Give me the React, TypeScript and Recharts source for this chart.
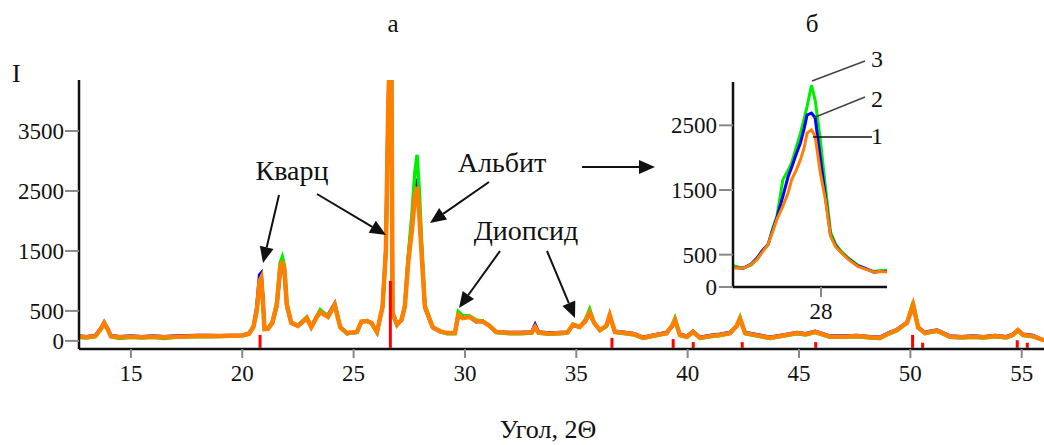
import { LineChart, Line, XAxis, YAxis, ReferenceLine } from "recharts";

// main pattern, 2Θ positions
const angle = [
  12.67, 13.0, 13.4, 13.65, 13.8, 13.95, 14.1, 14.5, 15.0, 15.5,
  16.0, 16.5, 17.0, 17.5, 18.0, 18.5, 19.0, 19.5, 20.0, 20.3,
  20.5, 20.65, 20.78, 20.85, 20.92, 21.0, 21.15, 21.35, 21.55, 21.7,
  21.8, 21.9, 22.0, 22.2, 22.5, 22.9, 23.1, 23.35, 23.5, 23.85,
  24.15, 24.4, 24.7, 25.15, 25.35, 25.6, 25.8, 26.05, 26.3, 26.45,
  26.55, 26.6, 26.7, 26.75, 26.95, 27.15, 27.3, 27.45, 27.62, 27.75, 27.85,
  27.95, 28.07, 28.2, 28.55, 28.9, 29.2, 29.55, 29.7, 29.9, 30.2,
  30.5, 30.8, 31.1, 31.4, 32.0, 32.5, 33.0, 33.15, 33.3, 33.8,
  34.3, 34.6, 34.85, 35.15, 35.4, 35.6, 35.8, 36.06, 36.35, 36.5,
  36.73, 37.2, 37.6, 38.0, 38.5, 39.05, 39.3, 39.43, 39.65, 39.97,
  40.24, 40.56, 41.0, 41.45, 41.9, 42.2, 42.35, 42.58, 43.0, 43.7,
  44.3, 44.9, 45.3, 45.72, 46.4, 47.0, 47.6, 48.2, 48.63, 49.0,
  49.4, 49.85, 50.12, 50.35, 50.66, 50.9, 51.2, 51.5, 51.78, 52.3,
  52.8, 53.3, 53.8, 54.3, 54.6, 54.83, 55.06, 55.5, 56.0,
];

// sample 1 (orange)
const sample1 = [
  70, 60, 80, 200, 300, 200, 80, 60, 70, 60,
  70, 60, 70, 75, 80, 80, 80, 85, 90, 120,
  230, 500, 1000, 1050, 700, 200, 200, 300, 600, 1200,
  1330, 1150, 600, 300, 250, 380, 230, 400, 480, 400,
  600, 230, 130, 150, 320, 330, 300, 150, 570, 1500,
  3800, 4500, 4500, 460, 270, 350, 570, 1300, 1850, 2400, 2570,
  2100, 1350, 570, 230, 160, 130, 130, 430, 380, 400,
  330, 320, 250, 150, 130, 130, 140, 230, 140, 120,
  130, 140, 270, 230, 330, 470, 300, 180, 250, 430,
  150, 130, 110, 50, 90, 130, 250, 350, 100, 70,
  150, 50, 80, 100, 130, 250, 370, 130, 100, 50,
  90, 130, 110, 150, 70, 70, 80, 60, 50, 120,
  180, 300, 600, 220, 130, 150, 170, 120, 70, 60,
  70, 60, 80, 60, 100, 180, 100, 80, 10,
];

// sample 2 (blue)
const sample2 = [
  80, 70, 90, 210, 310, 210, 90, 70, 80, 70,
  80, 70, 80, 85, 90, 90, 85, 90, 95, 125,
  240, 550, 1100, 1130, 750, 210, 210, 290, 580, 1150,
  1300, 1100, 580, 300, 250, 370, 230, 410, 470, 430,
  620, 230, 120, 150, 320, 330, 300, 140, 580, 1550,
  3850, 4500, 4500, 470, 280, 340, 580, 1350, 1950, 2550, 2700,
  2200, 1400, 560, 220, 150, 130, 130, 420, 390, 400,
  320, 330, 250, 150, 140, 140, 150, 270, 150, 130,
  140, 140, 260, 230, 320, 450, 300, 180, 250, 420,
  160, 140, 120, 60, 100, 140, 240, 340, 110, 80,
  160, 60, 90, 110, 140, 240, 360, 140, 110, 60,
  100, 140, 120, 160, 80, 80, 90, 70, 60, 130,
  190, 310, 590, 230, 140, 160, 180, 130, 80, 70,
  80, 70, 90, 70, 110, 180, 110, 90, 10,
];

// sample 3 (green)
const sample3 = [
  60, 50, 70, 190, 290, 190, 70, 40, 60, 50,
  60, 40, 60, 70, 75, 70, 75, 80, 85, 110,
  220, 480, 960, 1000, 680, 190, 200, 320, 650, 1300,
  1400, 1250, 650, 310, 260, 400, 240, 420, 520, 410,
  610, 220, 120, 140, 310, 340, 290, 140, 560, 1450,
  3700, 4500, 4500, 450, 260, 360, 600, 1400, 2100, 2800, 3100,
  2500, 1500, 600, 240, 150, 120, 120, 490, 420, 420,
  350, 330, 260, 140, 120, 120, 130, 220, 130, 110,
  120, 130, 280, 240, 350, 530, 310, 170, 240, 420,
  140, 120, 100, 40, 80, 120, 260, 380, 90, 60,
  140, 40, 70, 90, 120, 260, 400, 120, 90, 40,
  80, 120, 100, 140, 60, 60, 70, 50, 40, 110,
  170, 310, 650, 230, 120, 140, 160, 110, 60, 50,
  60, 50, 70, 50, 90, 170, 90, 70, 10,
];

// reference (card) lines shown in red under the pattern
const cardAngle = [20.8, 26.65, 36.6, 39.35, 40.25, 42.45, 45.75, 50.1, 50.55, 54.8, 55.25];
const cardTop = [100, 1000, 50, 30, -20, -20, -20, 100, -30, 10, -30];
const cardBase = -115;

const mainXTicks = [15, 20, 25, 30, 35, 40, 45, 50, 55];
const mainYTicks = [0, 500, 1500, 2500, 3500];

// inset around the albite peak
const insetAngle = [
  26.8, 26.94, 27.05, 27.13, 27.2, 27.28, 27.34, 27.4, 27.48, 27.55,
  27.6, 27.66, 27.72, 27.77, 27.81, 27.87, 27.92, 27.99, 28.06, 28.13,
  28.2, 28.27, 28.38, 28.5, 28.6, 28.72, 28.8, 28.9,
];
const inset1 = [
  300, 290, 350, 430, 540, 660, 850, 1050, 1250, 1450,
  1660, 1800, 1970, 2150, 2380, 2430, 2330, 1770, 1350, 790,
  620, 540, 420, 320, 280, 230, 240, 230,
];
const inset2 = [
  300, 290, 360, 450, 560, 660, 880, 1080, 1400, 1700,
  1850, 2050, 2230, 2450, 2660, 2690, 2620, 2000, 1400, 800,
  640, 540, 430, 330, 290, 230, 240, 240,
];
const inset3 = [
  330, 290, 340, 430, 560, 660, 900, 1100, 1660, 1800,
  1920, 2150, 2380, 2600, 2790, 3120, 2890, 2280, 1550, 850,
  660, 560, 440, 340, 280, 240, 250, 260,
];
const insetYTicks = [0, 500, 1500, 2500];
const insetXTicks = [28];

const ORANGE = "#ff8000";
const BLUE = "#0000ff";
const GREEN = "#00ee00";
const FONT = "Liberation Serif";

const mainData = angle.map((a, i) => ({
  angle: a,
  s1: sample1[i],
  s2: sample2[i],
  s3: sample3[i],
}));

const insetData = insetAngle.map((a, i) => ({
  angle: a,
  s1: inset1[i],
  s2: inset2[i],
  s3: inset3[i],
}));

const tickStyle = { fontSize: 23, fill: "#111", fontFamily: FONT };

function Arrow({ x1, y1, x2, y2 }: { x1: number; y1: number; x2: number; y2: number }) {
  const a = Math.atan2(y2 - y1, x2 - x1);
  const len = 16;
  const w = 7;
  const bx = x2 - len * Math.cos(a);
  const by = y2 - len * Math.sin(a);
  const px = -Math.sin(a) * w;
  const py = Math.cos(a) * w;
  return (
    <g>
      <line x1={x1} y1={y1} x2={bx} y2={by} stroke="#111" strokeWidth={2} />
      <polygon points={`${x2},${y2} ${bx + px},${by + py} ${bx - px},${by - py}`} fill="#111" />
    </g>
  );
}

export default function App() {
  return (
    <div
      style={{
        position: "absolute",
        left: 0,
        top: 0,
        width: 1044,
        height: 445,
        background: "#fff",
        fontFamily: FONT,
      }}
    >
      <style>{`.recharts-wrapper text, .recharts-text { font-family: "Liberation Serif", serif !important; }`}</style>
      <div style={{ position: "absolute", left: 0, top: 0 }}>
        <LineChart
          width={1044}
          height={445}
          data={mainData}
          margin={{ top: 80, right: 0, bottom: 56, left: 0 }}
          style={{ fontFamily: FONT }}
        >
          <XAxis
            dataKey="angle"
            type="number"
            domain={[12.67, 56]}
            ticks={mainXTicks}
            interval={0}
            allowDataOverflow
            height={40}
            tickSize={9}
            tickMargin={7}
            tick={tickStyle}
            axisLine={{ stroke: "#111", strokeWidth: 2.5 }}
            tickLine={{ stroke: "#888", strokeWidth: 2 }}
          />
          <YAxis
            type="number"
            domain={[-135, 4350]}
            ticks={mainYTicks}
            interval={0}
            allowDataOverflow
            width={79}
            tickSize={14}
            tickMargin={1}
            tick={tickStyle}
            axisLine={{ stroke: "#111", strokeWidth: 2.5 }}
            tickLine={{ stroke: "#888", strokeWidth: 2 }}
          />
          <Line dataKey="s2" stroke={BLUE} strokeWidth={3.5} dot={false} isAnimationActive={false} type="linear" />
          <Line dataKey="s3" stroke={GREEN} strokeWidth={3.5} dot={false} isAnimationActive={false} type="linear" />
          <Line dataKey="s1" stroke={ORANGE} strokeWidth={4.5} dot={false} isAnimationActive={false} type="linear" />
          {cardAngle.map((a, i) => (
            <ReferenceLine
              key={a}
              segment={[
                { x: a, y: cardBase },
                { x: a, y: cardTop[i] },
              ]}
              stroke="#ff0000"
              strokeWidth={3}
              ifOverflow="visible"
            />
          ))}
        </LineChart>
      </div>

      <div style={{ position: "absolute", left: 640, top: 50 }}>
        <LineChart
          width={260}
          height={280}
          data={insetData}
          margin={{ top: 32, right: 13, bottom: 8, left: 0 }}
          style={{ fontFamily: FONT }}
        >
          <XAxis
            dataKey="angle"
            type="number"
            domain={[26.8, 28.9]}
            ticks={insetXTicks}
            interval={0}
            allowDataOverflow
            height={35}
            tickSize={10}
            tickMargin={6}
            tick={tickStyle}
            axisLine={{ stroke: "#111", strokeWidth: 2.5 }}
            tickLine={{ stroke: "#888", strokeWidth: 2 }}
          />
          <YAxis
            type="number"
            domain={[0, 3170]}
            ticks={insetYTicks}
            interval={0}
            allowDataOverflow
            width={93}
            tickSize={14}
            tickMargin={2}
            tick={tickStyle}
            axisLine={{ stroke: "#111", strokeWidth: 2.5 }}
            tickLine={{ stroke: "#888", strokeWidth: 2 }}
          />
          <Line dataKey="s3" stroke={GREEN} strokeWidth={3} dot={false} isAnimationActive={false} type="linear" />
          <Line dataKey="s2" stroke={BLUE} strokeWidth={3} dot={false} isAnimationActive={false} type="linear" />
          <Line dataKey="s1" stroke={ORANGE} strokeWidth={3} dot={false} isAnimationActive={false} type="linear" />
        </LineChart>
      </div>

      <svg
        width={1044}
        height={445}
        style={{ position: "absolute", left: 0, top: 0, pointerEvents: "none", fontFamily: FONT }}
      >
        <text x={12} y={82} fontSize={26} fill="#111">I</text>
        <text x={393} y={32} fontSize={25} fill="#111" textAnchor="middle">а</text>
        <text x={812} y={32} fontSize={25} fill="#111" textAnchor="middle">б</text>
        <text x={548} y={438} fontSize={26} fill="#111" textAnchor="middle">Угол, 2Θ</text>

        <text x={292} y={180} fontSize={28} fill="#111" textAnchor="middle">Кварц</text>
        <text x={502} y={172} fontSize={28} fill="#111" textAnchor="middle">Альбит</text>
        <text x={526} y={240} fontSize={28} fill="#111" textAnchor="middle">Диопсид</text>

        <Arrow x1={279} y1={195} x2={263} y2={263} />
        <Arrow x1={317} y1={194} x2={386} y2={235} />
        <Arrow x1={489} y1={182} x2={430} y2={223} />
        <Arrow x1={582} y1={167} x2={655} y2={167} />
        <Arrow x1={500} y1={251} x2={459} y2={308} />
        <Arrow x1={547} y1={251} x2={575} y2={318} />

        <line x1={812} y1={81} x2={865} y2={61} stroke="#444" strokeWidth={1.5} />
        <line x1={813} y1={118} x2={865} y2={97} stroke="#444" strokeWidth={1.5} />
        <line x1={813} y1={137} x2={872} y2={137} stroke="#111" strokeWidth={1.5} />
        <text x={877} y={67} fontSize={24} fill="#111" textAnchor="middle">3</text>
        <text x={877} y={107} fontSize={24} fill="#111" textAnchor="middle">2</text>
        <text x={877} y={144} fontSize={24} fill="#111" textAnchor="middle">1</text>
      </svg>
    </div>
  );
}
